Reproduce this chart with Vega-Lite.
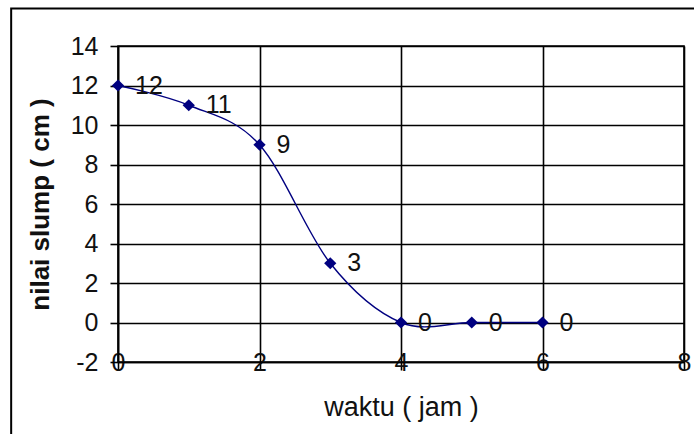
{
  "$schema": "https://vega.github.io/schema/vega-lite/v6.json",
  "width": 566,
  "height": 316,
  "autosize": {"type": "none"},
  "padding": {"left": 118, "top": 46, "right": 10, "bottom": 72},
  "background": "white",
  "config": {
    "font": "Liberation Sans",
    "view": {"stroke": "#000", "strokeWidth": 1.6},
    "axis": {
      "grid": true,
      "domainColor": "#000",
      "domainWidth": 1.6,
      "gridColor": "#000",
      "gridWidth": 1.6,
      "gridOpacity": 1,
      "tickColor": "#000",
      "tickWidth": 1.6,
      "tickSize": 8,
      "labelColor": "#111",
      "labelFont": "Liberation Sans",
      "labelFontSize": 25,
      "labelOverlap": false,
      "labelFlush": false,
      "titleColor": "#111",
      "titleFont": "Liberation Sans"
    }
  },
  "data": {
    "values": [
      {"waktu": 0, "slump": 12},
      {"waktu": 1, "slump": 11},
      {"waktu": 2, "slump": 9},
      {"waktu": 3, "slump": 3},
      {"waktu": 4, "slump": 0},
      {"waktu": 5, "slump": 0},
      {"waktu": 6, "slump": 0}
    ]
  },
  "layer": [
    {
      "mark": {"type": "line", "interpolate": "cardinal", "color": "#000080", "strokeWidth": 1.4},
      "encoding": {
        "x": {
          "field": "waktu",
          "type": "quantitative",
          "scale": {"domain": [0, 8], "nice": false, "zero": false},
          "axis": {
            "grid": true,
            "values": [0, 2, 4, 6, 8],
            "tickCount": 5,
            "labelExpr": "'' + datum.value",
            "title": "waktu ( jam )",
            "titleFontSize": 27,
            "titleFontWeight": "normal",
            "titlePadding": 19,
            "labelBaseline": "middle",
            "labelPadding": -8
          }
        },
        "y": {
          "field": "slump",
          "type": "quantitative",
          "scale": {"domain": [-2, 14], "nice": false, "zero": false},
          "axis": {
            "grid": true,
            "values": [-2, 0, 2, 4, 6, 8, 10, 12, 14],
            "tickCount": 9,
            "labelExpr": "'' + datum.value",
            "title": "nilai slump ( cm )",
            "titleFontSize": 26,
            "titleFontWeight": "bold",
            "titlePadding": 17,
            "labelPadding": 12
          }
        }
      }
    },
    {
      "mark": {"type": "point", "shape": "diamond", "filled": true, "color": "#000080", "size": 150, "opacity": 1},
      "encoding": {
        "x": {"field": "waktu", "type": "quantitative"},
        "y": {"field": "slump", "type": "quantitative"}
      }
    },
    {
      "mark": {"type": "text", "align": "left", "baseline": "middle", "dx": 17, "fontSize": 25, "color": "#111", "font": "Liberation Sans"},
      "encoding": {
        "x": {"field": "waktu", "type": "quantitative"},
        "y": {"field": "slump", "type": "quantitative"},
        "text": {"field": "slump", "type": "quantitative"}
      }
    },
    {
      "data": {"values": [{}]},
      "mark": {"type": "rect", "filled": false, "fillOpacity": 0, "stroke": "#000", "strokeWidth": 2, "clip": false},
      "encoding": {
        "x": {"datum": -1.51, "type": "quantitative"},
        "x2": {"datum": 9.5},
        "y": {"datum": 15.9, "type": "quantitative"},
        "y2": {"datum": -6}
      }
    }
  ]
}
